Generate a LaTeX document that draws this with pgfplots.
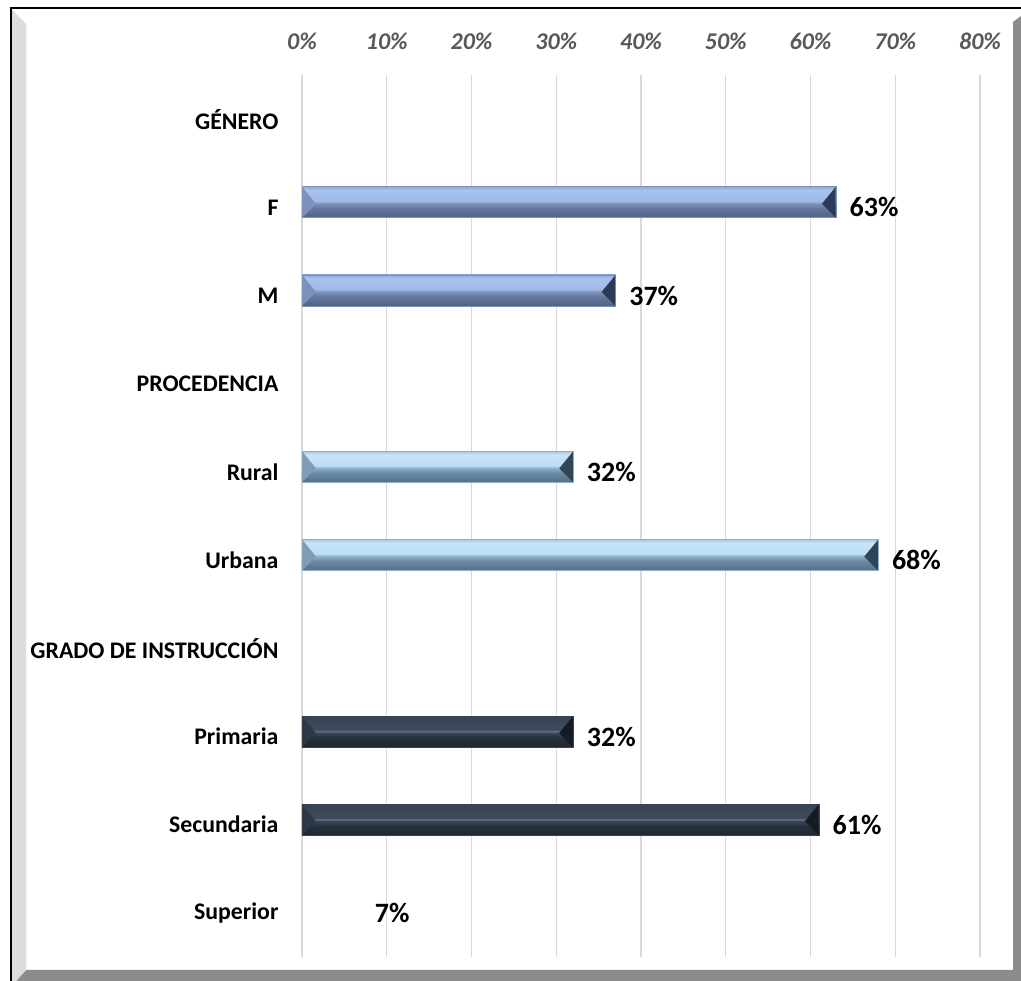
\documentclass[border=0pt]{standalone}
\usepackage{fontspec}
\setmainfont{Carlito}
\usepackage{pgfplots}
\pgfplotsset{compat=1.18}
\definecolor{gridgray}{HTML}{D9D9D9}
\definecolor{framedark}{HTML}{8C8C8C}
\definecolor{framelight}{HTML}{DDDDDD}
\definecolor{ticktext}{HTML}{595959}
% blue bevel
\definecolor{bA1}{HTML}{4F6084}
\definecolor{bA2}{HTML}{64789E}
\definecolor{bA3}{HTML}{7E92B8}
\definecolor{bA4}{HTML}{A0BAE8}
\definecolor{bA5}{HTML}{A8C3F0}
\definecolor{bA6}{HTML}{8FA8D8}
\definecolor{bL}{HTML}{7C92BC}
\definecolor{bR}{HTML}{2D3A55}
% sky bevel
\definecolor{sA1}{HTML}{556F86}
\definecolor{sA2}{HTML}{6A8AA4}
\definecolor{sA3}{HTML}{8FAEC7}
\definecolor{sA4}{HTML}{BBDDF6}
\definecolor{sA5}{HTML}{C6E5FA}
\definecolor{sA6}{HTML}{A9C7E2}
\definecolor{sL}{HTML}{7E9CB6}
\definecolor{sR}{HTML}{2F4558}
% dark bevel
\definecolor{dA1}{HTML}{1F262F}
\definecolor{dA2}{HTML}{27303C}
\definecolor{dA3}{HTML}{3A4555}
\definecolor{dA4}{HTML}{67768A}
\definecolor{dA5}{HTML}{3E4A5B}
\definecolor{dA6}{HTML}{384456}
\definecolor{dL}{HTML}{2E3744}
\definecolor{dR}{HTML}{151B23}
\pgfdeclareverticalshading{blueBevel}{100bp}{color(0bp)=(bA1); color(25bp)=(bA1); color(40bp)=(bA2); color(48bp)=(bA3); color(52bp)=(bA4); color(70bp)=(bA5); color(75bp)=(bA6); color(100bp)=(bA6)}
\pgfdeclareverticalshading{skyBevel}{100bp}{color(0bp)=(sA1); color(25bp)=(sA1); color(40bp)=(sA2); color(48bp)=(sA3); color(52bp)=(sA4); color(70bp)=(sA5); color(75bp)=(sA6); color(100bp)=(sA6)}
\pgfdeclareverticalshading{darkBevel}{100bp}{color(0bp)=(dA1); color(25bp)=(dA1); color(40bp)=(dA2); color(48bp)=(dA3); color(50bp)=(dA4); color(53bp)=(dA5); color(75bp)=(dA6); color(100bp)=(dA6)}
% bevel end facets (bar spans -10.5pt..20.5pt around the category, centre +5pt)
\pgfdeclareplotmark{bevelR}{%
  \pgfpathmoveto{\pgfpoint{-0.4pt}{20.1pt}}%
  \pgfpathlineto{\pgfpoint{-0.4pt}{-10.1pt}}%
  \pgfpathlineto{\pgfpoint{-14pt}{3.5pt}}%
  \pgfpathclose\pgfusepathqfill}
\pgfdeclareplotmark{bevelL}{%
  \pgfpathmoveto{\pgfpoint{0.4pt}{20.1pt}}%
  \pgfpathlineto{\pgfpoint{0.4pt}{-10.1pt}}%
  \pgfpathlineto{\pgfpoint{14pt}{3.5pt}}%
  \pgfpathclose\pgfusepathqfill}
\pgfplotsset{
  barlabels/.style={point meta=x,
    nodes near coords={\pgfmathprintnumber[assume math mode=true]{\pgfplotspointmeta}\%},
    every node near coord/.append style={font=\bfseries\fontsize{28}{28}\selectfont, text=black, anchor=west, xshift=10pt, yshift=0pt}},
  blueBar/.style={xbar, barlabels, shade, shading=blueBevel, draw=bA3, line width=0.8pt},
  skyBar/.style={xbar, barlabels, shade, shading=skyBevel, draw=sA3, line width=0.8pt},
  darkBar/.style={xbar, barlabels, shade, shading=darkBevel, draw=dA6, line width=0.8pt},
  endmark/.style 2 args={only marks, forget plot, mark=#1, mark options={fill=#2, draw=none}},
}
\begin{document}
\begin{tikzpicture}[x=1pt,y=1pt]
\useasboundingbox (0pt,0pt) rectangle (1021pt,981pt);
\fill[white] (0pt,0pt) rectangle (1021pt,981pt);
\fill[framedark] (16pt,0pt) -- (26pt,11pt) -- (1013pt,11pt) -- (1013pt,959pt) -- (1021pt,965pt) -- (1021pt,0pt) -- cycle;
\fill[framelight] (12pt,0pt) -- (16pt,0pt) -- (26pt,11pt) -- (26pt,957pt) -- (12pt,971pt) -- cycle;
\draw[black, line width=2pt] (11pt,0pt) -- (11pt,973pt) -- (1021pt,973pt);
\begin{axis}[
  at={(302pt,906pt)}, anchor=north west,
  scale only axis, width=678pt, height=882pt,
  xmin=0, xmax=80, ymin=-0.5, ymax=9.5, y dir=reverse,
  bar width=31pt, bar shift=5pt,
  axis line style={draw=none}, tick style={draw=none},
  xmajorgrids, grid style={gridgray, line width=1.2pt},
  xtick={0,10,...,80},
  xticklabels={0\%,10\%,20\%,30\%,40\%,50\%,60\%,70\%,80\%},
  xticklabel pos=right,
  xticklabel style={font=\bfseries\itshape\fontsize{24}{24}\selectfont, text=ticktext, yshift=22pt},
  ytick={0,...,9},
  yticklabels={GÉNERO,F,M,PROCEDENCIA,Rural,Urbana,GRADO DE INSTRUCCIÓN,Primaria,Secundaria,Superior},
  yticklabel style={font=\bfseries\fontsize{23.8}{24}\selectfont, text=black, xshift=-20pt},
  clip=false,
]
\addplot[blueBar] coordinates {(63,1)};
\addplot[blueBar] coordinates {(37,2)};
\addplot[skyBar] coordinates {(32,4)};
\addplot[skyBar] coordinates {(68,5)};
\addplot[darkBar] coordinates {(32,7)};
\addplot[darkBar] coordinates {(61,8)};
\addplot[xbar, barlabels, fill=none, draw=none] coordinates {(7,9)};
% bevel facets at the ends of each bar
\addplot[endmark={bevelR}{bR}] coordinates {(63,1) (37,2)};
\addplot[endmark={bevelL}{bL}] coordinates {(0,1) (0,2)};
\addplot[endmark={bevelR}{sR}] coordinates {(32,4) (68,5)};
\addplot[endmark={bevelL}{sL}] coordinates {(0,4) (0,5)};
\addplot[endmark={bevelR}{dR}] coordinates {(32,7) (61,8)};
\addplot[endmark={bevelL}{dL}] coordinates {(0,7) (0,8)};
\end{axis}
\end{tikzpicture}
\end{document}
